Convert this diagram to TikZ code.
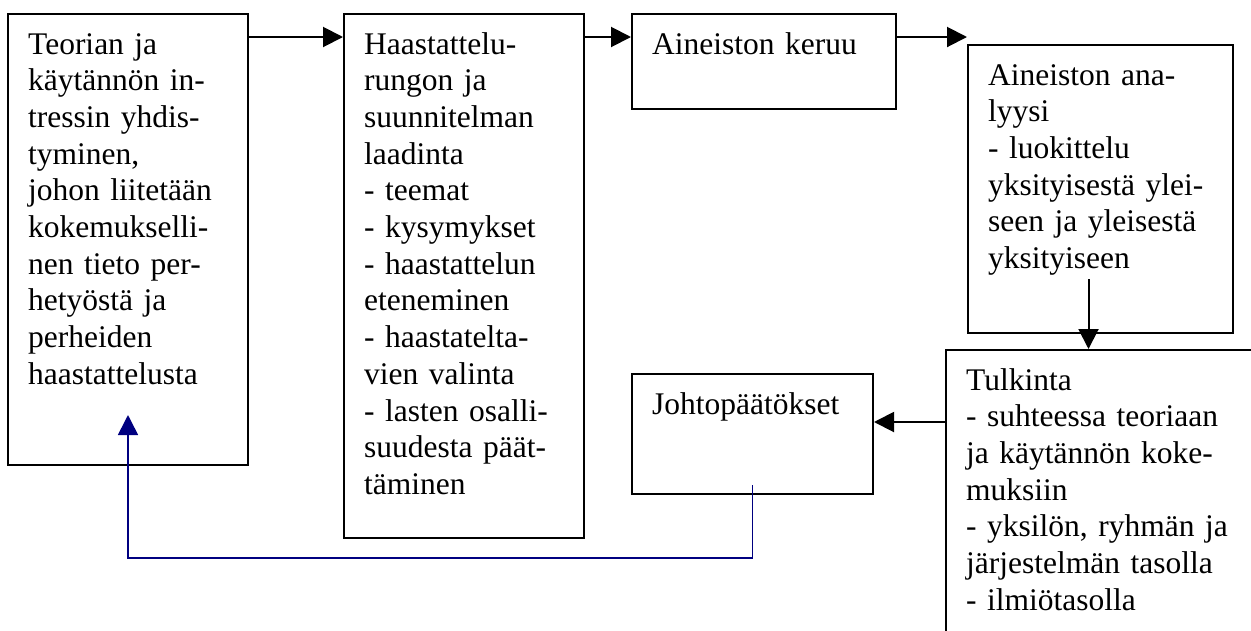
\documentclass[tikz,border=0pt]{standalone}
\usepackage{fontspec}
\setmainfont{Liberation Serif}
\usetikzlibrary{arrows.meta}

\tikzset{
	box/.style={draw,line width=2pt,inner sep=0pt,anchor=north west},
	txt/.style={anchor=base west,inner sep=0pt,text width=320pt,align=left,
		font=\fontsize{31.5}{36.7}\selectfont},
	arr/.style={line width=2pt,-{Triangle[length=20pt,width=20pt]}},
	back/.style={line width=1.6pt,draw=navy,-{Triangle[length=20pt,width=20pt]}}
}
\definecolor{navy}{RGB}{0,0,128}

\begin{document}
\begin{tikzpicture}[x=1pt,y=-1pt]
	\def\dx{21pt} % text inset
	\def\dy{-41pt} % first baseline
	\clip (0,0) rectangle (1251,630);
	
	% boxes
	\node[box,minimum width=240pt,minimum height=451pt] (teoria) at (7,13) {};
	\node[box,minimum width=240pt,minimum height=524pt] (runko) at (343,13) {};
	\node[box,minimum width=264pt,minimum height=95pt] (keruu) at (631,13) {};
	\node[box,minimum width=265pt,minimum height=288pt] (analyysi) at (967,44) {};
	\node[box,minimum width=330pt,minimum height=300pt] (tulkinta) at (945,349) {};
	\node[box,minimum width=241pt,minimum height=120pt] (johto) at (631,373) {};
	
	% texts
	\node[txt] (teoriaT) at ([xshift=\dx,yshift=\dy]teoria.north west)
		{Teorian ja\\käytännön in-\\tressin yhdis-\\tyminen,\\johon liitetään\\kokemukselli-\\nen tieto per-\\hetyöstä ja\\perheiden\\haastattelusta};
	\node[txt] (runkoT) at ([xshift=\dx,yshift=\dy]runko.north west)
		{Haastattelu-\\rungon ja\\suunnitelman\\laadinta\\- teemat\\- kysymykset\\- haastattelun\\eteneminen\\- haastatelta-\\vien valinta\\- lasten osalli-\\suudesta päät-\\täminen};
	\node[txt] (keruuT) at ([xshift=\dx,yshift=\dy]keruu.north west) {Aineiston keruu};
	\node[txt] (analyysiT) at ([xshift=\dx,yshift=\dy]analyysi.north west)
		{Aineiston ana-\\lyysi\\- luokittelu\\yksityisestä ylei-\\seen ja yleisestä\\yksityiseen};
	\node[txt] (tulkintaT) at ([xshift=\dx,yshift=\dy]tulkinta.north west)
		{Tulkinta\\- suhteessa teoriaan\\ja käytännön koke-\\muksiin\\- yksilön, ryhmän ja\\järjestelmän tasolla\\- ilmiötasolla};
	\node[txt] (johtoT) at ([xshift=\dx,yshift=\dy]johto.north west) {Johtopäätökset};
	
	% arrows
	\draw[arr] ([yshift=-24pt]teoria.north east) -- ([yshift=-24pt]runko.north west);
	\draw[arr] ([yshift=-24pt]runko.north east) -- ([yshift=-24pt]keruu.north west);
	\draw[arr] ([yshift=-24pt]keruu.north east) -- ([yshift=7pt]analyysi.north west);
	\coordinate (a1) at ([xshift=-12pt,yshift=55pt]analyysi.south);
	\draw[arr] (a1) -- (a1 |- tulkinta.north);
	\coordinate (t1) at ([yshift=-73pt]tulkinta.north west);
	\draw[arr] (t1) -- (t1 -| johto.east);
	\draw[back] ([yshift=10pt]johto.south) -- ++(0,73) -| ([yshift=51pt]teoria.south);
\end{tikzpicture}
\end{document}
